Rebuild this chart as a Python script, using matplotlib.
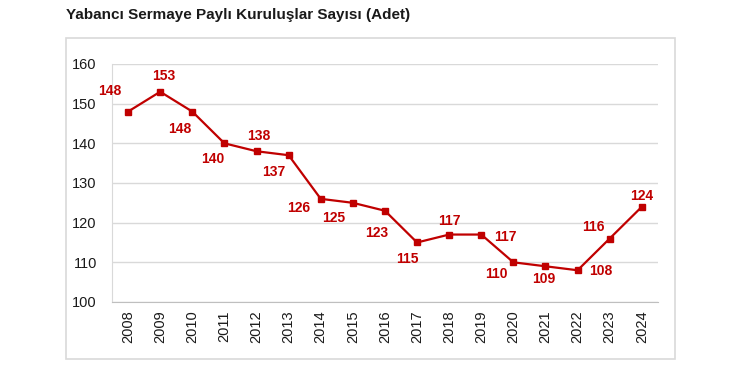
import matplotlib
matplotlib.use("Agg")
import matplotlib.pyplot as plt
from matplotlib.patches import Rectangle

plt.rcParams['font.family'] = ['Liberation Sans', 'DejaVu Sans']

years = ["2008", "2009", "2010", "2011", "2012", "2013", "2014", "2015", "2016",
         "2017", "2018", "2019", "2020", "2021", "2022", "2023", "2024"]
values = [148, 153, 148, 140, 138, 137, 126, 125, 123, 115, 117, 117, 110, 109, 108, 116, 124]
y_ticks = [100, 110, 120, 130, 140, 150, 160]
title = "Yabancı Sermaye Paylı Kuruluşlar Sayısı (Adet)"

# label offsets in pixels (dx, dy)
offsets = [(-18, 21), (4, 16), (-13, -17), (-12, -16), (2, 15), (-15, -17), (-22, -9),
           (-19, -15), (-8, -22), (-10, -17), (0, 14), (24, -2), (-17, -12), (-2, -13),
           (23, -1), (-16, 12), (0, 11)]

red = "#C00000"
fig = plt.figure(figsize=(7.4, 3.66), dpi=100)
fig.patches.append(Rectangle((0.0892, 0.0191), 0.8228, 0.8769, transform=fig.transFigure,
                             fill=False, edgecolor="#D9D9D9", linewidth=1.2))
fig.text(0.089, 0.959, title, fontsize=11, fontweight='bold', ha='left', va='center', color='#1a1a1a')

ax = fig.add_axes([0.1514, 0.1749, 0.7376, 0.6503])
x = list(range(len(years)))
ax.plot(x, values, color=red, linewidth=1.6, marker='s', markersize=4, zorder=3)
ax.set_xlim(-0.5, len(years) - 0.5)
ax.set_ylim(100, 160)
ax.set_yticks(y_ticks)
ax.set_xticks(x)
ax.set_xticklabels(years, rotation=90)
ax.tick_params(axis='both', length=0, labelsize=10.5, colors='#1a1a1a')
ax.tick_params(axis='y', pad=11)
ax.tick_params(axis='x', pad=6)
ax.grid(axis='y', color='#D9D9D9', linewidth=1)
ax.set_axisbelow(True)
for s in ['top', 'right']:
    ax.spines[s].set_visible(False)
ax.spines['left'].set_color('#D9D9D9')
ax.spines['bottom'].set_color('#BFBFBF')

for xi, v, (dx, dy) in zip(x, values, offsets):
    ax.annotate(str(v), (xi, v), xytext=(dx * 0.72, dy * 0.72), textcoords='offset points',
                ha='center', va='center', fontsize=10, fontweight='bold', color=red)

fig.savefig("out.png", dpi=100)
